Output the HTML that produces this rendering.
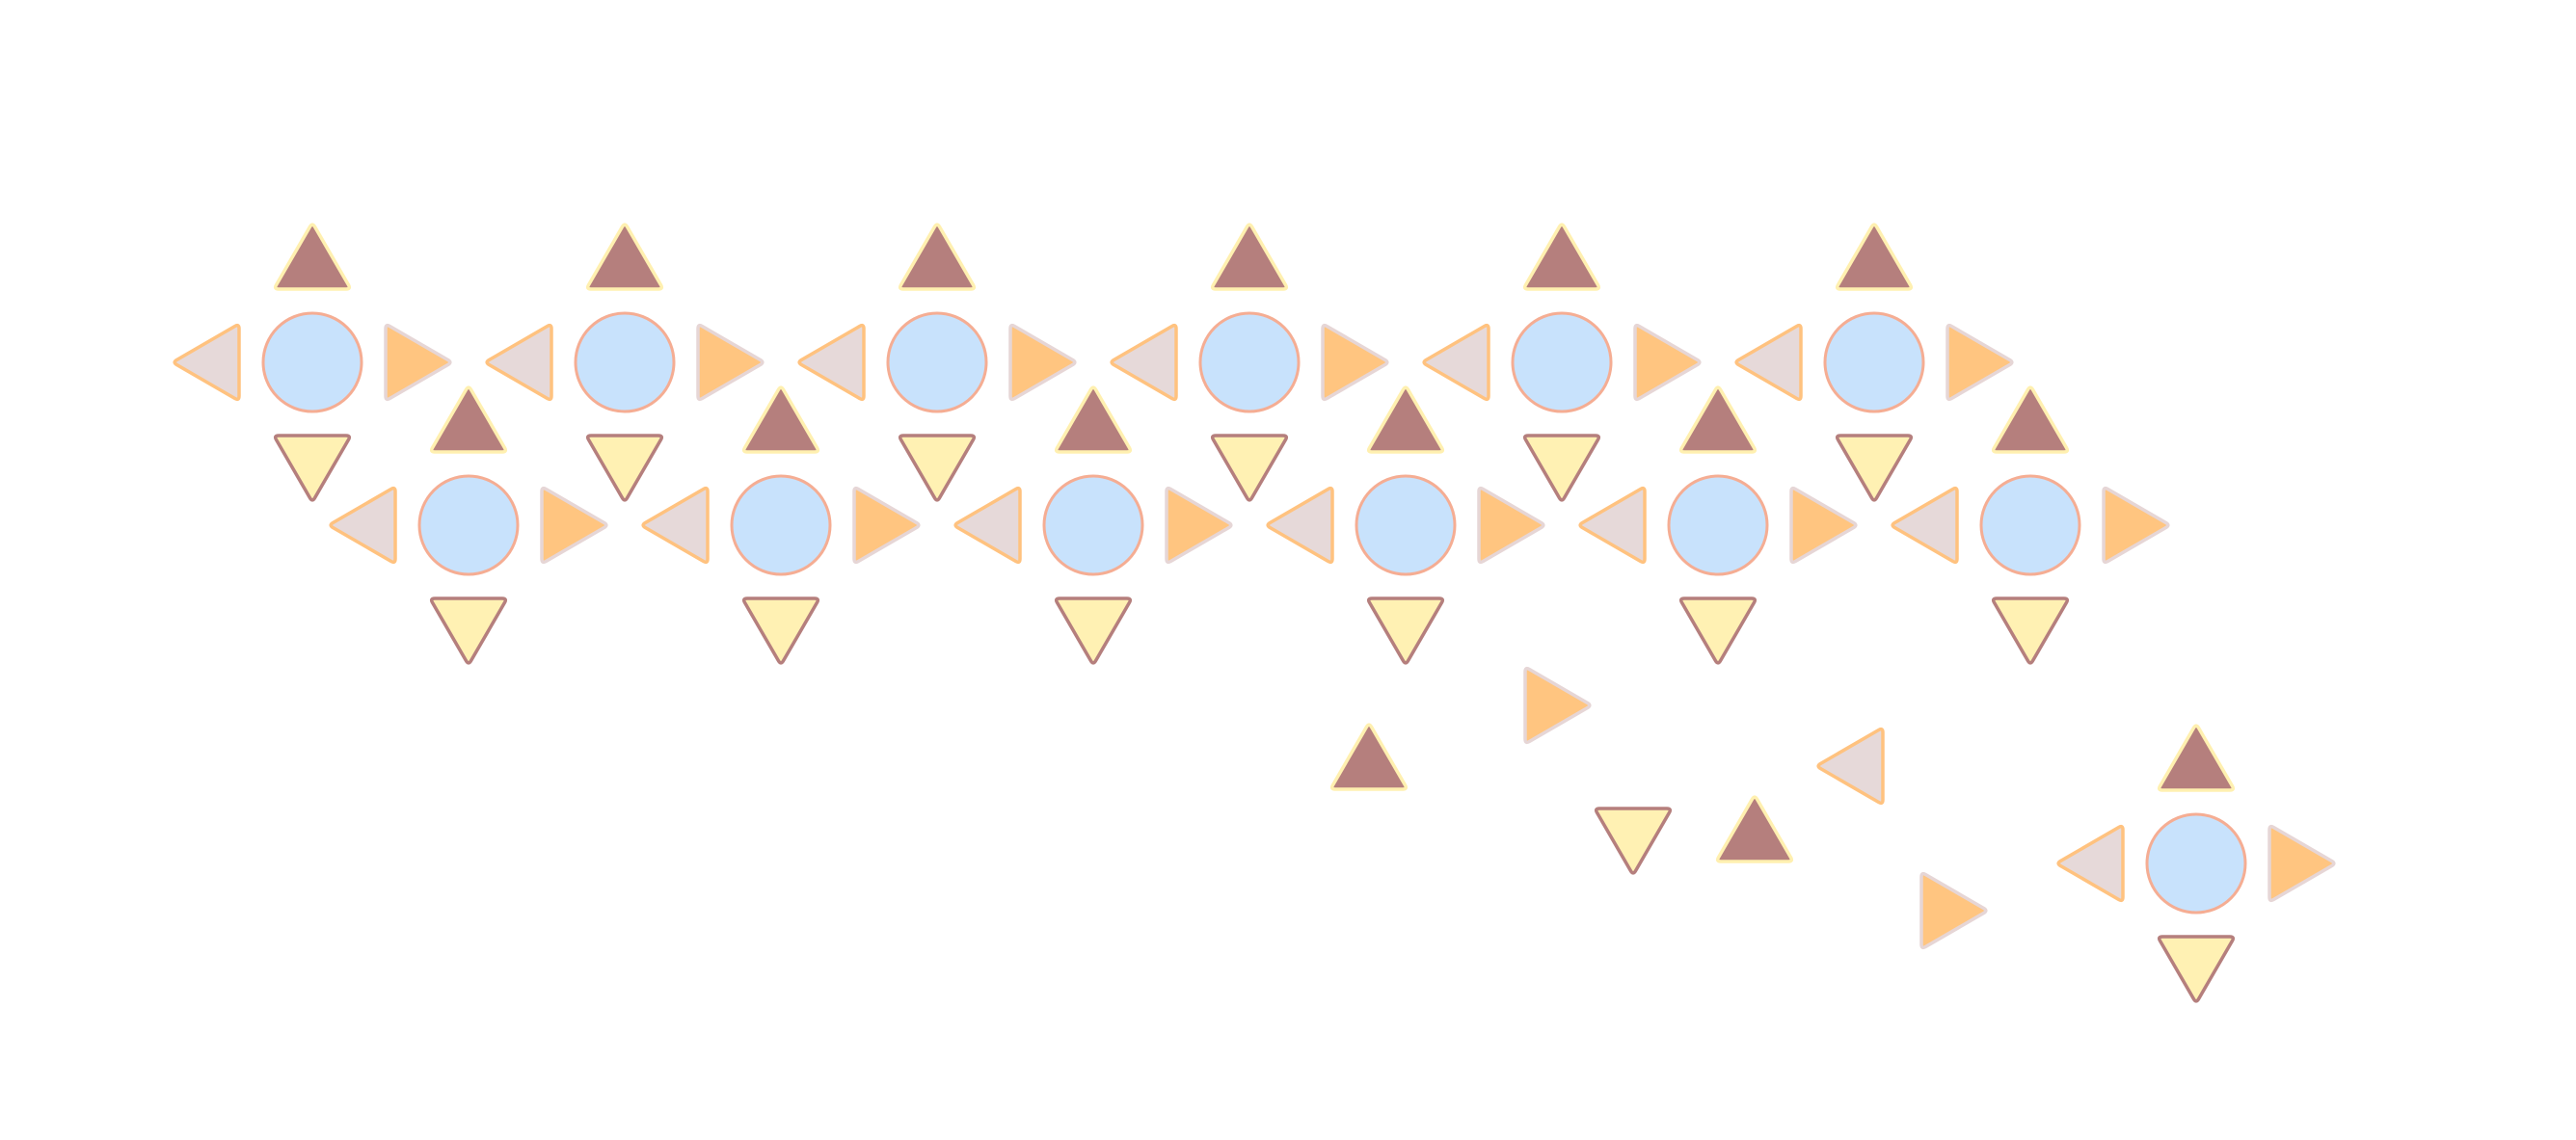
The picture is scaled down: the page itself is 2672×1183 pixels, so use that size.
<!DOCTYPE html>
<html>
<head>
<meta charset="utf-8">
<style>
html,body{margin:0;padding:0;background:#fff;}
svg{display:block;}
</style>
</head>
<body>
<svg width="2672" height="1183" viewBox="0 0 2672 1183" xmlns="http://www.w3.org/2000/svg">
<defs>
<path id="up" d="M2.5,-140.7 L37.5,-80.3 Q40,-76 35,-76 L-35,-76 Q-40,-76 -37.5,-80.3 L-2.5,-140.7 Q0,-145 2.5,-140.7 Z" fill="#b57f7d" stroke="#fff0b0" stroke-width="3.5" stroke-linejoin="round"/>
<path id="dn" d="M2.5,140.7 L37.5,80.3 Q40,76 35,76 L-35,76 Q-40,76 -37.5,80.3 L-2.5,140.7 Q0,145 2.5,140.7 Z" fill="#fff1b3" stroke="#b57f7d" stroke-width="3.5" stroke-linejoin="round"/>
<path id="lt" d="M-140.7,-2.5 L-80.3,-37.5 Q-76,-40 -76,-35 L-76,35 Q-76,40 -80.3,37.5 L-140.7,2.5 Q-145,0 -140.7,-2.5 Z" fill="#e6d9d9" stroke="#ffc27f" stroke-width="3.5" stroke-linejoin="round"/>
<path id="rt" d="M140.7,-2.5 L80.3,-37.5 Q76,-40 76,-35 L76,35 Q76,40 80.3,37.5 L140.7,2.5 Q145,0 140.7,-2.5 Z" fill="#ffc580" stroke="#e6d6d6" stroke-width="3.5" stroke-linejoin="round"/>
<g id="unit">
<use href="#up"/><use href="#dn"/><use href="#lt"/><use href="#rt"/>
<circle r="51" fill="#c8e2fc" stroke="#f5ad93" stroke-width="3"/>
</g>
</defs>
<use href="#unit" transform="translate(324,376)"/>
<use href="#unit" transform="translate(648,376)"/>
<use href="#unit" transform="translate(972,376)"/>
<use href="#unit" transform="translate(1296,376)"/>
<use href="#unit" transform="translate(1620,376)"/>
<use href="#unit" transform="translate(1944,376)"/>
<use href="#unit" transform="translate(486,545)"/>
<use href="#unit" transform="translate(810,545)"/>
<use href="#unit" transform="translate(1134,545)"/>
<use href="#unit" transform="translate(1458,545)"/>
<use href="#unit" transform="translate(1782,545)"/>
<use href="#unit" transform="translate(2106,545)"/>
<use href="#unit" transform="translate(2278,896)"/>
<use href="#up" transform="translate(1420,895)"/>
<use href="#rt" transform="translate(1506,732)"/>
<use href="#dn" transform="translate(1694,763)"/>
<use href="#up" transform="translate(1820,970)"/>
<use href="#lt" transform="translate(2029,795)"/>
<use href="#rt" transform="translate(1917,945)"/>
</svg>
</body>
</html>
